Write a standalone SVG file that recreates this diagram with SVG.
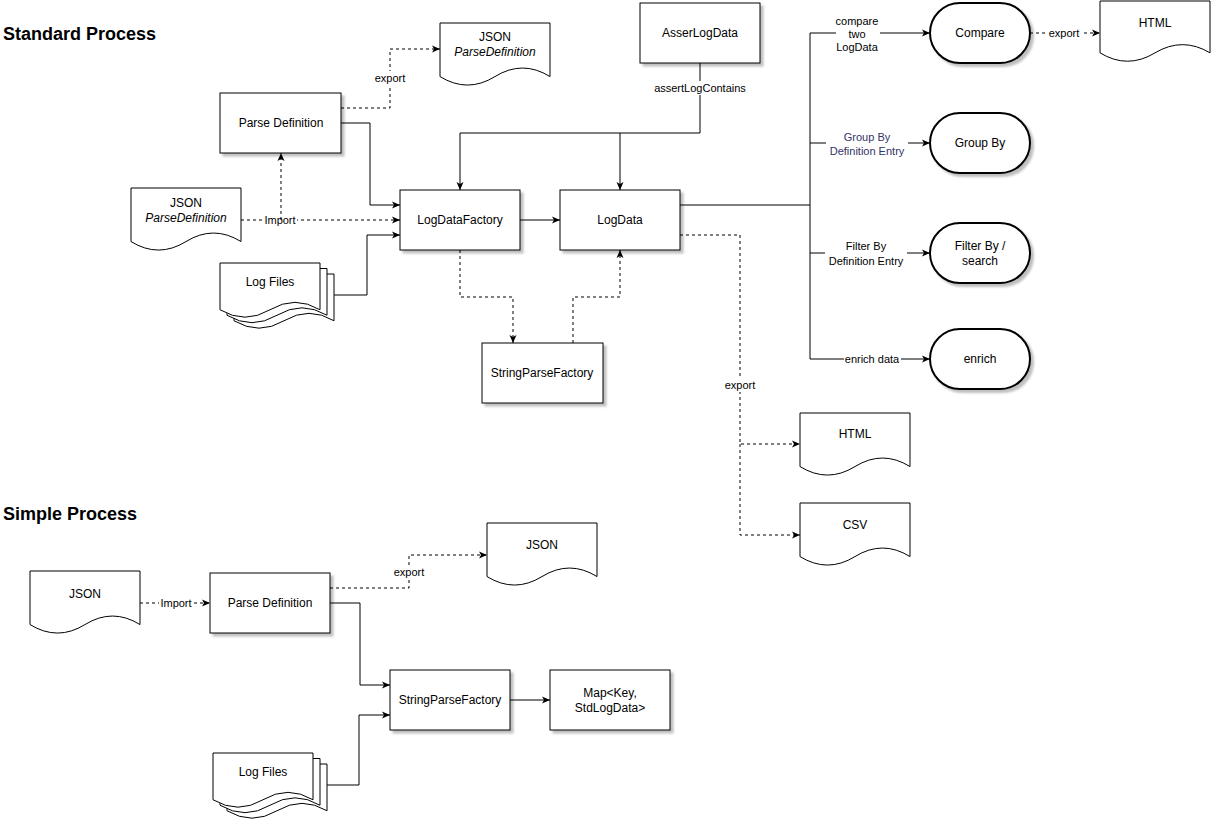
<svg xmlns="http://www.w3.org/2000/svg" width="1211" height="820" viewBox="0 0 1211 820">
<defs>
<marker id="arr" viewBox="0 0 8 8" refX="8" refY="4" markerWidth="8" markerHeight="8" markerUnits="userSpaceOnUse" orient="auto">
<path d="M0,0.5 L8,4 L0,7.5 L2,4 Z" fill="#000"/>
</marker>
<filter id="sh" x="-10%" y="-10%" width="130%" height="140%">
<feDropShadow dx="3" dy="3" stdDeviation="0.8" flood-color="#000" flood-opacity="0.25"/>
</filter>
</defs>
<style>
text{font-family:"Liberation Sans",Arial,sans-serif;fill:#000}
.t{font-size:12px;text-anchor:middle;dominant-baseline:central}
.l{font-size:11px;text-anchor:middle;dominant-baseline:central}
.h{font-size:18px;font-weight:bold}
.i{font-style:italic}
.box{fill:#fff;stroke:#000;stroke-width:1;filter:url(#sh)}
.term{fill:#fff;stroke:#000;stroke-width:2;filter:url(#sh)}
.doc{fill:#fff;stroke:#000;stroke-width:1}
.c{fill:none;stroke:#000;stroke-width:1}
.a{marker-end:url(#arr)}
.d{stroke-dasharray:3 3}
.bg{fill:#fff}
.blue{fill:#333366}
</style>
<rect x="0" y="0" width="1211" height="820" fill="#fff"/>
<text class="h" x="3" y="40">Standard Process</text>
<text class="h" x="3" y="520">Simple Process</text>

<g id="connectors">
<path class="c a" d="M341,123 H370 V205 H400"/>
<path class="c a" d="M334,295 H367 V235 H400"/>
<path class="c a" d="M520,220 H560"/>
<path class="c a" d="M700,63 V133 H460 V190"/>
<path class="c a" d="M620,133 V190"/>
<path class="c a" d="M680,205 H810 V33 H930"/>
<path class="c a" d="M810,143 H930"/>
<path class="c a" d="M810,205 V253 H930"/>
<path class="c a" d="M810,253 V359 H930"/>
<path class="c d a" d="M341,108 H390 V49 H440"/>
<path class="c d a" d="M241,220 H400"/>
<path class="c d a" d="M460,250 V297 H513 V343"/>
<path class="c d a" d="M573,343 V297 H620 V250"/>
<path class="c d a" d="M680,235 H740 V444 H800"/>
<path class="c d a" d="M740,444 V535 H800"/>
<path class="c d a" d="M1030,33 H1100"/>
<path class="c a" d="M330,603 H360 V685 H390"/>
<path class="c a" d="M327,785 H359 V715 H390"/>
<path class="c a" d="M510,700 H550"/>
<path class="c d a" d="M140,603 H210"/>
<path class="c d a" d="M330,588 H409 V555 H487"/>
<rect class="bg" x="373" y="71" width="34" height="14"/>
<text class="l" x="390" y="78">export</text>
<rect class="bg" x="263" y="213" width="34" height="14"/>
<text class="l" x="280" y="220">Import</text>
<path class="c d a" d="M281,220 V153"/>
<rect class="bg" x="654" y="81" width="92" height="14"/>
<text class="l" x="700" y="88">assertLogContains</text>
<rect class="bg" x="836" y="14" width="44" height="40"/>
<text class="l" x="857" y="21">compare</text>
<text class="l" x="857" y="34">two</text>
<text class="l" x="857" y="47">LogData</text>
<rect class="bg" x="826" y="130" width="82" height="28"/>
<text class="l blue" x="867" y="137">Group By</text>
<text class="l blue" x="867" y="151">Definition Entry</text>
<rect class="bg" x="825" y="239" width="82" height="29"/>
<text class="l" x="866" y="246">Filter By</text>
<text class="l" x="866" y="261">Definition Entry</text>
<rect class="bg" x="844" y="352" width="57" height="14"/>
<text class="l" x="872" y="359">enrich data</text>
<rect class="bg" x="723" y="378" width="34" height="14"/>
<text class="l" x="740" y="385">export</text>
<rect class="bg" x="1048" y="26" width="33" height="14"/>
<text class="l" x="1064" y="33">export</text>
<rect class="bg" x="159" y="596" width="34" height="14"/>
<text class="l" x="176" y="603">Import</text>
<rect class="bg" x="392" y="565" width="34" height="14"/>
<text class="l" x="409" y="572">export</text>
</g>

<g id="json-pd-top">
<path class="doc" d="M440,23 H550 V76.55 Q522.5,59.54 495,76.55 Q467.5,93.56 440,76.55 Z"/>
<text class="t" x="495" y="37">JSON</text>
<text class="t i" x="495" y="52">ParseDefinition</text>
</g>
<g id="parse-definition">
<rect class="box" x="220" y="93" width="121" height="60"/>
<text class="t" x="281" y="123">Parse Definition</text>
</g>
<g id="json-pd-left">
<path class="doc" d="M131,188 H241 V241.55 Q213.5,224.54 186,241.55 Q158.5,258.56 131,241.55 Z"/>
<text class="t" x="186" y="203">JSON</text>
<text class="t i" x="186" y="218">ParseDefinition</text>
</g>
<g id="log-files">
<path class="doc" d="M234,274 H334 V320.75 Q309,305.9 284,320.75 Q259,335.6 234,320.75 Z"/>
<path class="doc" d="M227,268.5 H327 V315.25 Q302,300.4 277,315.25 Q252,330.1 227,315.25 Z"/>
<path class="doc" d="M220,263 H320 V309.75 Q295,294.9 270,309.75 Q245,324.6 220,309.75 Z"/>
<text class="t" x="270" y="282">Log Files</text>
</g>
<g id="logdatafactory">
<rect class="box" x="400" y="190" width="120" height="60"/>
<text class="t" x="460" y="220">LogDataFactory</text>
</g>
<g id="logdata">
<rect class="box" x="560" y="190" width="120" height="60"/>
<text class="t" x="620" y="220">LogData</text>
</g>
<g id="asserlogdata">
<rect class="box" x="640" y="3" width="120" height="60"/>
<text class="t" x="700" y="33">AsserLogData</text>
</g>
<g id="stringparsefactory">
<rect class="box" x="482" y="343" width="121" height="60"/>
<text class="t" x="542" y="373">StringParseFactory</text>
</g>
<g id="compare">
<rect class="term" x="930" y="3" width="100" height="60" rx="30" ry="30"/>
<text class="t" x="980" y="33">Compare</text>
</g>
<g id="html-top">
<path class="doc" d="M1100,1 H1210 V52.85 Q1182.5,36.45 1155,52.85 Q1127.5,69.6 1100,52.85 Z"/>
<text class="t" x="1155" y="23">HTML</text>
</g>
<g id="groupby">
<rect class="term" x="930" y="113" width="100" height="60" rx="30" ry="30"/>
<text class="t" x="980" y="143">Group By</text>
</g>
<g id="filterby">
<rect class="term" x="930" y="223" width="100" height="60" rx="30" ry="30"/>
<text class="t" x="980" y="246">Filter By /</text>
<text class="t" x="980" y="261">search</text>
</g>
<g id="enrich">
<rect class="term" x="930" y="329" width="100" height="60" rx="30" ry="30"/>
<text class="t" x="980" y="359">enrich</text>
</g>
<g id="html-export">
<path class="doc" d="M800,413 H910 V466.55 Q882.5,449.54 855,466.55 Q827.5,483.56 800,466.55 Z"/>
<text class="t" x="855" y="434">HTML</text>
</g>
<g id="csv-export">
<path class="doc" d="M800,503 H910 V556.55 Q882.5,539.54 855,556.55 Q827.5,573.56 800,556.55 Z"/>
<text class="t" x="855" y="525">CSV</text>
</g>

<g id="simple-json-in">
<path class="doc" d="M30,571 H140 V624.55 Q112.5,607.54 85,624.55 Q57.5,641.56 30,624.55 Z"/>
<text class="t" x="85" y="594">JSON</text>
</g>
<g id="simple-parse-definition">
<rect class="box" x="210" y="573" width="120" height="60"/>
<text class="t" x="270" y="603">Parse Definition</text>
</g>
<g id="simple-json-out">
<path class="doc" d="M487,523 H597 V576.55 Q569.5,559.54 542,576.55 Q514.5,593.56 487,576.55 Z"/>
<text class="t" x="542" y="545">JSON</text>
</g>
<g id="simple-stringparsefactory">
<rect class="box" x="390" y="670" width="120" height="60"/>
<text class="t" x="450" y="700">StringParseFactory</text>
</g>
<g id="simple-map">
<rect class="box" x="550" y="670" width="120" height="60"/>
<text class="t" x="610" y="693">Map&lt;Key,</text>
<text class="t" x="610" y="708">StdLogData&gt;</text>
</g>
<g id="simple-log-files">
<path class="doc" d="M227,764 H327 V810.75 Q302,795.9 277,810.75 Q252,825.6 227,810.75 Z"/>
<path class="doc" d="M220,758.5 H320 V805.25 Q295,790.4 270,805.25 Q245,820.1 220,805.25 Z"/>
<path class="doc" d="M213,753 H313 V799.75 Q288,784.9 263,799.75 Q238,814.6 213,799.75 Z"/>
<text class="t" x="263" y="772">Log Files</text>
</g>
</svg>
